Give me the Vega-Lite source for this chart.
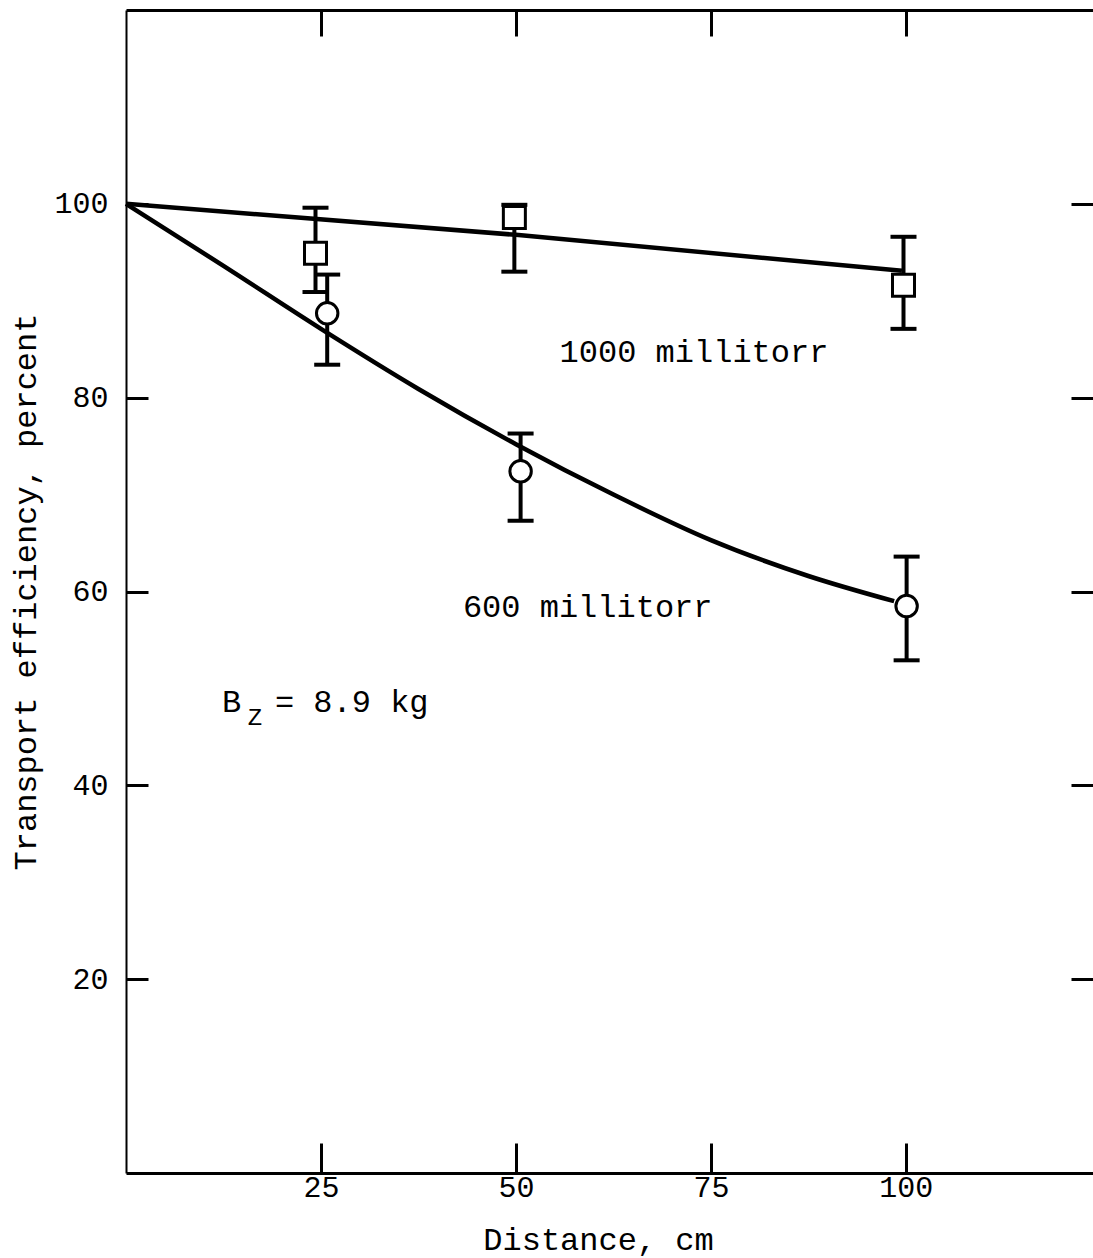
{
  "$schema": "https://vega.github.io/schema/vega-lite/v6.json",
  "width": 967,
  "height": 1163,
  "autosize": "none",
  "padding": {"left": 126, "top": 10, "right": 0, "bottom": 85},
  "background": "white",
  "config": {
    "view": {"stroke": null},
    "font": "Liberation Mono",
    "axis": {
      "grid": false,
      "domainColor": "black",
      "domainWidth": 3,
      "tickColor": "black",
      "tickWidth": 3,
      "labelColor": "black",
      "titleColor": "black",
      "labelFont": "Liberation Mono",
      "titleFont": "Liberation Mono",
      "labelFontSize": 30,
      "titleFontSize": 32,
      "titleFontWeight": "normal"
    }
  },
  "datasets": {
    "points": [
      {"series": "1000 millitorr", "x": 24.3, "y": 94.9, "lo": 90.9, "hi": 99.6},
      {"series": "1000 millitorr", "x": 49.8, "y": 98.6, "lo": 93.0, "hi": 99.9},
      {"series": "1000 millitorr", "x": 99.7, "y": 91.6, "lo": 87.1, "hi": 96.6},
      {"series": "600 millitorr", "x": 25.8, "y": 88.7, "lo": 83.4, "hi": 92.7},
      {"series": "600 millitorr", "x": 50.6, "y": 72.4, "lo": 67.3, "hi": 76.3},
      {"series": "600 millitorr", "x": 100.1, "y": 58.5, "lo": 52.9, "hi": 63.6}
    ],
    "curves": [
      {"series": "1000 millitorr", "x": 0, "y": 100},
      {"series": "1000 millitorr", "x": 50, "y": 96.8},
      {"series": "1000 millitorr", "x": 99.5, "y": 93.1},
      {"series": "600 millitorr", "x": 0, "y": 100},
      {"series": "600 millitorr", "x": 12.5, "y": 93.6},
      {"series": "600 millitorr", "x": 25, "y": 87.1},
      {"series": "600 millitorr", "x": 37.5, "y": 80.9},
      {"series": "600 millitorr", "x": 50, "y": 75.2},
      {"series": "600 millitorr", "x": 62.5, "y": 70.0},
      {"series": "600 millitorr", "x": 75, "y": 65.3},
      {"series": "600 millitorr", "x": 87.5, "y": 61.6},
      {"series": "600 millitorr", "x": 98.5, "y": 59.0}
    ],
    "labels": [
      {"label": "1000 millitorr", "x": 55.6, "y": 84.7},
      {"label": "600 millitorr", "x": 43.2, "y": 58.4},
      {"label": "B", "x": 12.3, "y": 48.6},
      {"label": "= 8.9 kg", "x": 19.1, "y": 48.6}
    ],
    "subs": [
      {"label": "Z", "x": 15.6, "y": 46.9}
    ]
  },
  "resolve": {"axis": {"x": "independent", "y": "independent"}},
  "layer": [
    {
      "data": {"name": "points"},
      "mark": {"type": "rule", "color": "black", "strokeWidth": 4, "opacity": 1},
      "encoding": {
        "x": {
          "field": "x", "type": "quantitative",
          "scale": {"domain": [0, 124], "nice": false, "zero": false},
          "axis": {"orient": "bottom", "values": [25, 50, 75, 100], "tickSize": -30, "labelPadding": 29, "title": "Distance, cm", "titlePadding": 22, "titleX": 472}
        },
        "y": {
          "field": "lo", "type": "quantitative",
          "scale": {"domain": [0, 120], "nice": false, "zero": false},
          "axis": {"orient": "left", "values": [20, 40, 60, 80, 100], "tickSize": -22, "labelPadding": 40, "domainWidth": 2, "title": "Transport efficiency, percent", "titlePadding": 11}
        },
        "y2": {"field": "hi"}
      }
    },
    {
      "data": {"name": "curves"},
      "mark": {"type": "line", "color": "black", "strokeWidth": 4.5, "interpolate": "monotone"},
      "encoding": {
        "x": {
          "field": "x", "type": "quantitative",
          "axis": {"orient": "top", "values": [25, 50, 75, 100], "tickSize": -26, "labels": false, "title": null}
        },
        "y": {
          "field": "y", "type": "quantitative",
          "axis": {"orient": "right", "values": [20, 40, 60, 80, 100], "tickSize": -22, "labels": false, "domain": false, "title": null}
        },
        "detail": {"field": "series"}
      }
    },
    {
      "data": {"name": "points"},
      "mark": {"type": "tick", "orient": "horizontal", "color": "black", "size": 26, "thickness": 4, "opacity": 1},
      "encoding": {
        "x": {"field": "x", "type": "quantitative", "axis": null},
        "y": {"field": "lo", "type": "quantitative", "axis": null}
      }
    },
    {
      "data": {"name": "points"},
      "mark": {"type": "tick", "orient": "horizontal", "color": "black", "size": 26, "thickness": 4, "opacity": 1},
      "encoding": {
        "x": {"field": "x", "type": "quantitative", "axis": null},
        "y": {"field": "hi", "type": "quantitative", "axis": null}
      }
    },
    {
      "data": {"name": "points"},
      "mark": {"type": "point", "filled": true, "fill": "white", "stroke": "black", "strokeWidth": 3, "opacity": 1},
      "encoding": {
        "x": {"field": "x", "type": "quantitative", "axis": null},
        "y": {"field": "y", "type": "quantitative", "axis": null},
        "shape": {"field": "series", "type": "nominal", "scale": {"domain": ["1000 millitorr", "600 millitorr"], "range": ["square", "circle"]}, "legend": null},
        "size": {"field": "series", "type": "nominal", "scale": {"domain": ["1000 millitorr", "600 millitorr"], "range": [484, 460]}, "legend": null}
      }
    },
    {
      "data": {"name": "labels"},
      "mark": {"type": "text", "align": "left", "baseline": "middle", "fontSize": 32, "font": "Liberation Mono", "color": "black"},
      "encoding": {
        "x": {"field": "x", "type": "quantitative", "axis": null},
        "y": {"field": "y", "type": "quantitative", "axis": null},
        "text": {"field": "label"}
      }
    },
    {
      "data": {"name": "subs"},
      "mark": {"type": "text", "align": "left", "baseline": "middle", "fontSize": 24, "font": "Liberation Mono", "color": "black"},
      "encoding": {
        "x": {"field": "x", "type": "quantitative", "axis": null},
        "y": {"field": "y", "type": "quantitative", "axis": null},
        "text": {"field": "label"}
      }
    }
  ]
}
